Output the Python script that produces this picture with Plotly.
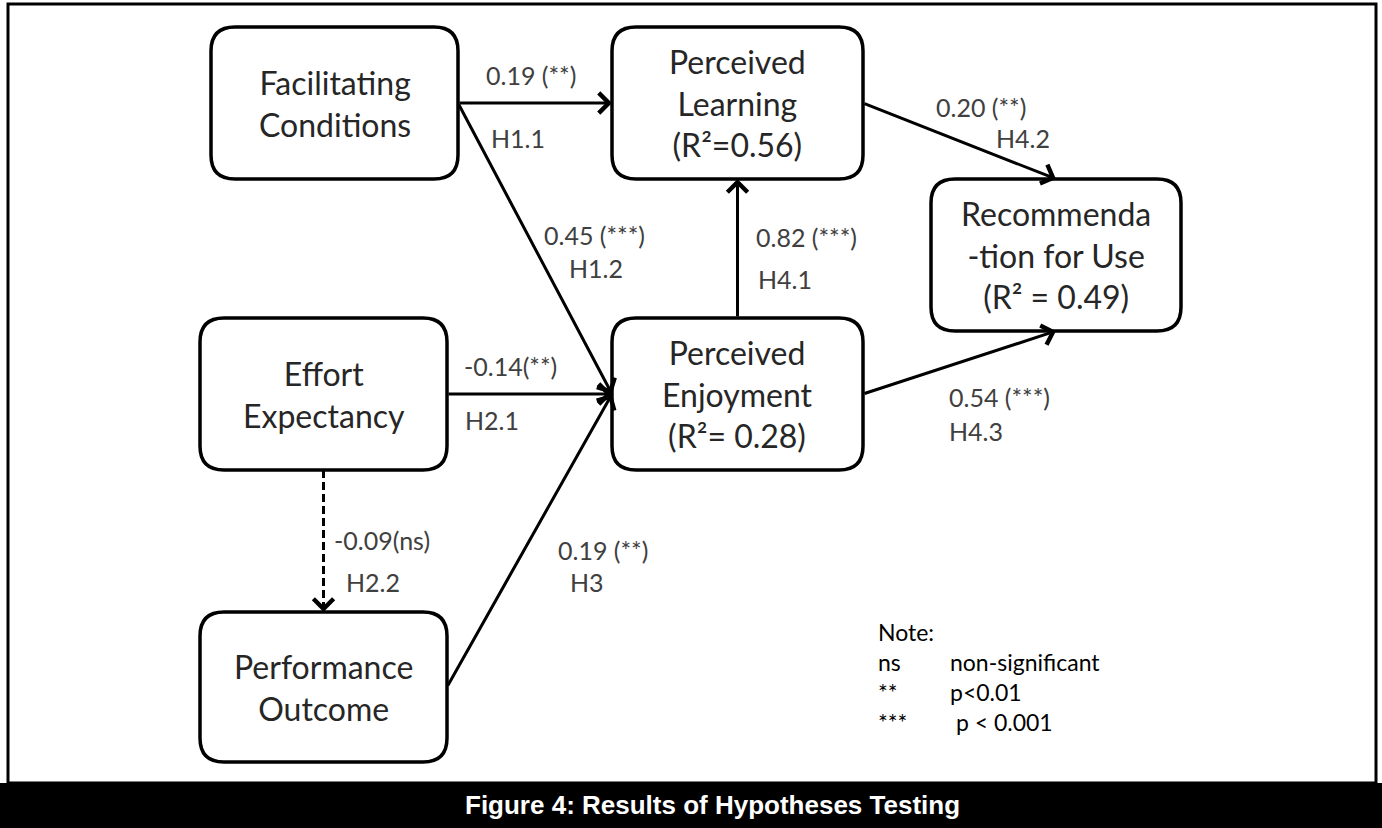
import plotly.graph_objects as go

# ---------------- data ----------------
node_ids = ["FC", "PL", "RU", "EE", "PE", "PO"]
node_labels = [
    "Facilitating<br>Conditions",
    "Perceived<br>Learning<br>(R²=0.56)",
    "Recommenda<br>-tion for Use<br>(R² = 0.49)",
    "Effort<br>Expectancy",
    "Perceived<br>Enjoyment<br>(R²= 0.28)",
    "Performance<br>Outcome",
]

edge_src = ["FC", "FC", "EE", "EE", "PO", "PE", "PL", "PE"]
edge_tgt = ["PL", "PE", "PE", "PO", "PE", "PL", "RU", "RU"]
edge_coef = ["0.19 (**)", "0.45 (***)", "-0.14(**)", "-0.09(ns)", "0.19 (**)",
             "0.82 (***)", "0.20 (**)", "0.54 (***)"]
edge_hyp = ["H1.1", "H1.2", "H2.1", "H2.2", "H3", "H4.1", "H4.2", "H4.3"]
edge_sig = [True, True, True, False, True, True, True, True]

note_title = "Note:"
note_keys = ["ns", "**", "***"]
note_vals = ["non-significant", "p&lt;0.01", " p &lt; 0.001"]
caption = "Figure 4: Results of Hypotheses Testing"

# ---------------- layout (pixel canvas) ----------------
W, H = 1382, 828
BOX = {
    "FC": (211, 27, 458, 179),
    "PL": (612, 27, 863, 179),
    "RU": (931, 179, 1181, 331),
    "EE": (200, 318, 447, 470),
    "PE": (612, 318, 863, 470),
    "PO": (200, 612, 447, 762),
}
SRC_SIDE = ["right", "right", "right", "bottom", "right", "top", "right", "right"]
TGT_SIDE = ["left", "left", "left", "top", "left", "bottom", "top", "bottom"]
# label positions: (coef x, coef y, hyp x, hyp y), left-anchored
LABEL_POS = {
    "H1.1": (484, 75, 489, 138),
    "H1.2": (542, 235, 567, 268),
    "H2.1": (462, 366, 463, 420),
    "H2.2": (332, 540, 344, 582),
    "H3": (556, 550, 568, 582),
    "H4.1": (754, 237, 756, 279),
    "H4.2": (934, 107, 994, 138),
    "H4.3": (947, 397, 947, 431),
}


def anchor(nid, side):
    x0, y0, x1, y1 = BOX[nid]
    cx, cy = (x0 + x1) / 2, (y0 + y1) / 2
    return {"left": (x0, cy), "right": (x1, cy), "top": (cx, y0), "bottom": (cx, y1)}[side]


def rounded(x0, y0, x1, y1, r=24):
    return (f"M{x0+r},{y0} L{x1-r},{y0} Q{x1},{y0} {x1},{y0+r} "
            f"L{x1},{y1-r} Q{x1},{y1} {x1-r},{y1} L{x0+r},{y1} "
            f"Q{x0},{y1} {x0},{y1-r} L{x0},{y0+r} Q{x0},{y0} {x0+r},{y0} Z")


fig = go.Figure()
fig.add_trace(go.Scatter(x=[0, W], y=[0, H], mode="markers",
                         marker=dict(opacity=0), hoverinfo="skip", showlegend=False))

shapes = []
# outer frame and caption band
shapes.append(dict(type="rect", xref="x", yref="y", x0=8, y0=4, x1=1376, y1=783,
                   line=dict(color="black", width=3), fillcolor="white", layer="below"))
shapes.append(dict(type="rect", xref="x", yref="y", x0=0, y0=783, x1=W, y1=H,
                   line=dict(width=0), fillcolor="black", layer="above"))

annotations = []
FAM = "Lato, Open Sans, sans-serif"
BOX_FONT = dict(family=FAM, size=32, color="#262626")
LAB_FONT = dict(family=FAM, size=25, color="#404040")
NOTE_FONT = dict(family=FAM, size=23, color="black")

# edges
for s, t, ss, ts, sig, hyp, coef in zip(edge_src, edge_tgt, SRC_SIDE, TGT_SIDE,
                                          edge_sig, edge_hyp, edge_coef):
    (sx, sy) = anchor(s, ss)
    (tx, ty) = anchor(t, ts)
    if sig:
        annotations.append(dict(x=tx, y=ty, ax=sx, ay=sy, xref="x", yref="y",
                                axref="x", ayref="y", text="", showarrow=True,
                                arrowhead=4, arrowsize=1.3, arrowwidth=3,
                                arrowcolor="black", standoff=0, startstandoff=0))
    else:
        shapes.append(dict(type="line", xref="x", yref="y", x0=sx, y0=sy, x1=tx, y1=ty - 6,
                           line=dict(color="black", width=3, dash="8px,4px")))
        annotations.append(dict(x=tx, y=ty, ax=tx, ay=ty - 8, xref="x", yref="y",
                                axref="x", ayref="y", text="", showarrow=True,
                                arrowhead=4, arrowsize=1.3, arrowwidth=3,
                                arrowcolor="black", standoff=0))
    cx, cy, hx, hy = LABEL_POS[hyp]
    annotations.append(dict(x=cx, y=cy, xref="x", yref="y", text=coef, showarrow=False,
                            xanchor="left", yanchor="middle", font=LAB_FONT))
    annotations.append(dict(x=hx, y=hy, xref="x", yref="y", text=hyp, showarrow=False,
                            xanchor="left", yanchor="middle", font=LAB_FONT))

# nodes
for nid, lab in zip(node_ids, node_labels):
    x0, y0, x1, y1 = BOX[nid]
    shapes.append(dict(type="path", xref="x", yref="y", path=rounded(x0, y0, x1, y1),
                       line=dict(color="black", width=3.5), fillcolor="white", layer="above"))
    annotations.append(dict(x=(x0 + x1) / 2, y=(y0 + y1) / 2, xref="x", yref="y",
                            text=lab, showarrow=False, xanchor="center", yanchor="middle",
                            align="center", font=BOX_FONT))

# note (two columns)
annotations.append(dict(x=876, y=677, xref="x", yref="y",
                        text="<br>".join([note_title] + note_keys), showarrow=False,
                        xanchor="left", yanchor="middle", align="left", font=NOTE_FONT))
annotations.append(dict(x=948, y=677, xref="x", yref="y",
                        text="<br>".join([" "] + note_vals), showarrow=False,
                        xanchor="left", yanchor="middle", align="left", font=NOTE_FONT))

# caption
annotations.append(dict(x=712, y=805, xref="x", yref="y", text=f"<b>{caption}</b>",
                        showarrow=False, xanchor="center", yanchor="middle",
                        font=dict(family="Liberation Sans, Arial, sans-serif", size=26,
                                  color="white")))

fig.update_layout(
    width=W, height=H, autosize=False,
    margin=dict(l=0, r=0, t=0, b=0, pad=0),
    paper_bgcolor="white", plot_bgcolor="white",
    xaxis=dict(range=[0, W], visible=False, fixedrange=True),
    yaxis=dict(range=[H, 0], visible=False, fixedrange=True),
    shapes=shapes, annotations=annotations, showlegend=False,
)
fig.write_html("out.html", config={"displayModeBar": False},
               post_script="document.body.style.margin='0';document.body.style.overflow='hidden';")
